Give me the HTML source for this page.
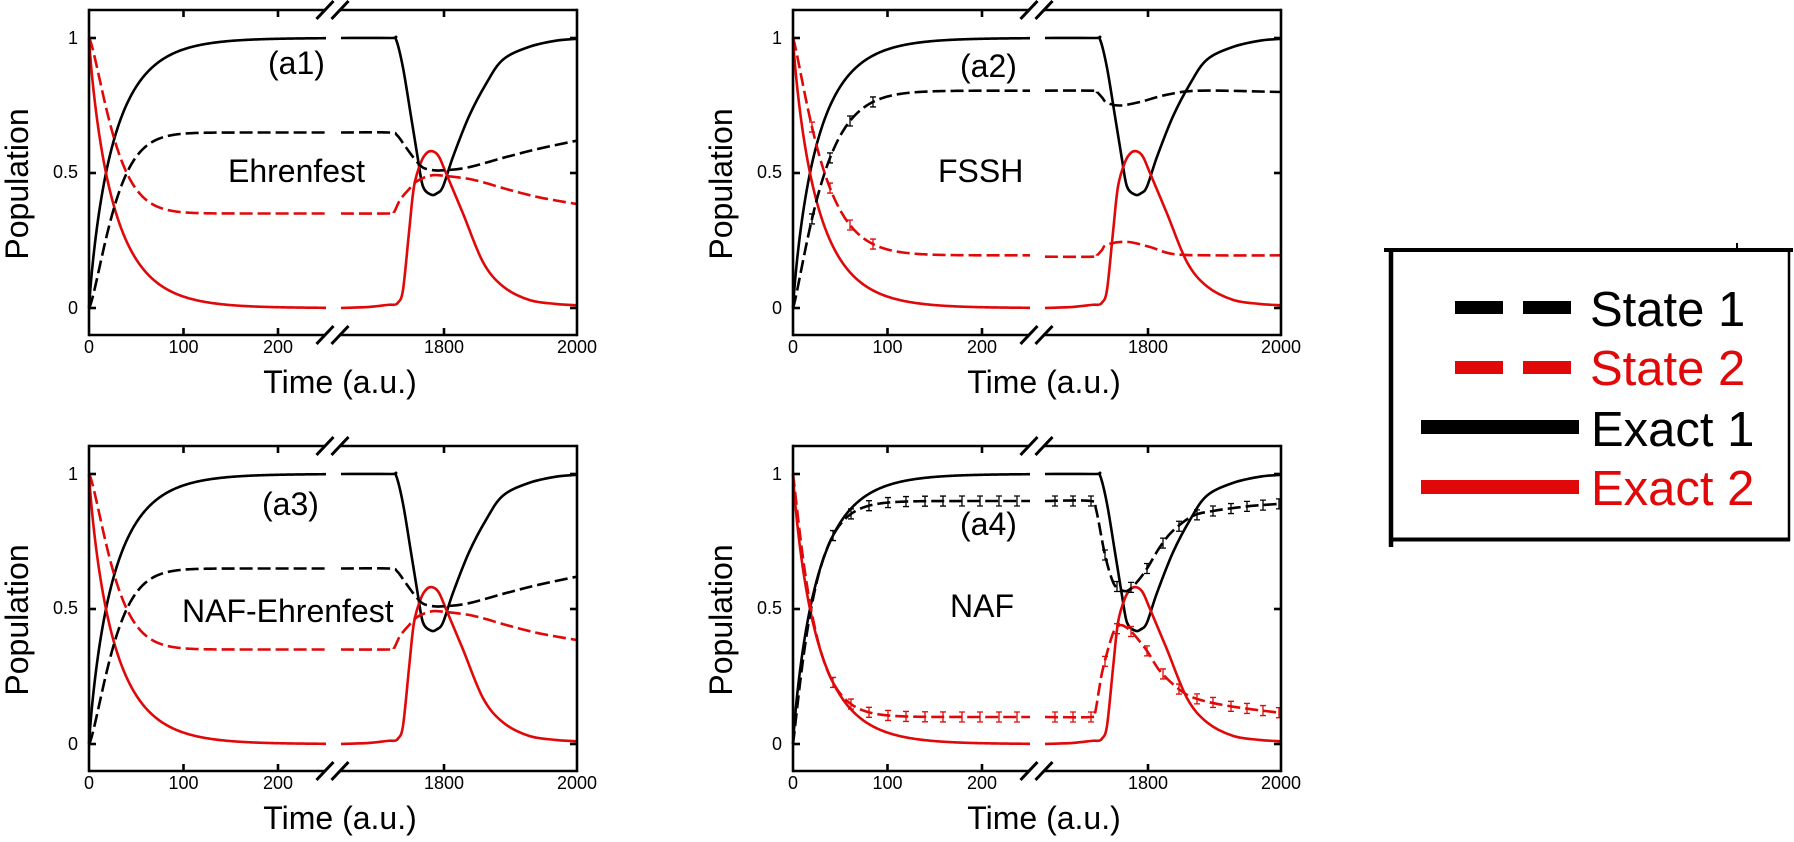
<!DOCTYPE html>
<html><head><meta charset="utf-8">
<style>
html,body{margin:0;padding:0;background:#fff;}
svg{display:block;}
text{font-family:"Liberation Sans",Arial,sans-serif;fill:#000;}
.tk{font-size:18px;}
.ax{font-size:32px;}
.an{font-size:32px;}
.lg{font-size:49px;}
</style></head><body>
<svg id="s" width="1794" height="842" viewBox="0 0 1794 842" xmlns="http://www.w3.org/2000/svg">
<defs>
<g id="frame" stroke="#000" stroke-width="2.6" fill="none" stroke-linecap="butt">
  <line x1="0" y1="-1.3" x2="0" y2="326.3"/>
  <line x1="488" y1="-1.3" x2="488" y2="326.3"/>
  <line x1="0" y1="0" x2="236" y2="0"/>
  <line x1="251" y1="0" x2="488" y2="0"/>
  <line x1="0" y1="325" x2="236" y2="325"/>
  <line x1="251" y1="325" x2="488" y2="325"/>
  <line x1="227.5" y1="9" x2="244.5" y2="-9" stroke-width="3"/>
  <line x1="242.5" y1="9" x2="259.5" y2="-9" stroke-width="3"/>
  <line x1="227.5" y1="334" x2="244.5" y2="316" stroke-width="3"/>
  <line x1="242.5" y1="334" x2="259.5" y2="316" stroke-width="3"/>
  <line x1="0" y1="28" x2="7" y2="28"/>
  <line x1="0" y1="163" x2="7" y2="163"/>
  <line x1="0" y1="298" x2="7" y2="298"/>
  <line x1="481" y1="28" x2="488" y2="28"/>
  <line x1="481" y1="163" x2="488" y2="163"/>
  <line x1="481" y1="298" x2="488" y2="298"/>
  <line x1="94.5" y1="325" x2="94.5" y2="318"/>
  <line x1="189" y1="325" x2="189" y2="318"/>
  <line x1="355" y1="325" x2="355" y2="318"/>
  <line x1="94.5" y1="0" x2="94.5" y2="7"/>
  <line x1="189" y1="0" x2="189" y2="7"/>
  <line x1="355" y1="0" x2="355" y2="7"/>
</g>
</defs>

<!-- Panel a1 -->
<g transform="translate(89,10)">
  <g id="c1"></g>
  <use href="#frame"/>
  <text class="tk" x="0" y="343" text-anchor="middle">0</text>
  <text class="tk" x="94.5" y="343" text-anchor="middle">100</text>
  <text class="tk" x="189" y="343" text-anchor="middle">200</text>
  <text class="tk" x="355" y="343" text-anchor="middle">1800</text>
  <text class="tk" x="488" y="343" text-anchor="middle">2000</text>
  <text class="tk" x="-11" y="34" text-anchor="end">1</text>
  <text class="tk" x="-11" y="168" text-anchor="end">0.5</text>
  <text class="tk" x="-11" y="304" text-anchor="end">0</text>
  <text class="ax" transform="translate(-61,174) rotate(-90)" text-anchor="middle">Population</text>
  <text class="ax" x="251" y="383" text-anchor="middle">Time (a.u.)</text>
  <text class="an" x="179" y="64">(a1)</text>
  <text class="an" x="139" y="172">Ehrenfest</text>
</g>

<!-- Panel a2 -->
<g transform="translate(793,10)">
  <g id="c2"></g>
  <use href="#frame"/>
  <text class="tk" x="0" y="343" text-anchor="middle">0</text>
  <text class="tk" x="94.5" y="343" text-anchor="middle">100</text>
  <text class="tk" x="189" y="343" text-anchor="middle">200</text>
  <text class="tk" x="355" y="343" text-anchor="middle">1800</text>
  <text class="tk" x="488" y="343" text-anchor="middle">2000</text>
  <text class="tk" x="-11" y="34" text-anchor="end">1</text>
  <text class="tk" x="-11" y="168" text-anchor="end">0.5</text>
  <text class="tk" x="-11" y="304" text-anchor="end">0</text>
  <text class="ax" transform="translate(-61,174) rotate(-90)" text-anchor="middle">Population</text>
  <text class="ax" x="251" y="383" text-anchor="middle">Time (a.u.)</text>
  <text class="an" x="167" y="67">(a2)</text>
  <text class="an" x="145" y="172">FSSH</text>
</g>

<!-- Panel a3 -->
<g transform="translate(89,446)">
  <g id="c3"></g>
  <use href="#frame"/>
  <text class="tk" x="0" y="343" text-anchor="middle">0</text>
  <text class="tk" x="94.5" y="343" text-anchor="middle">100</text>
  <text class="tk" x="189" y="343" text-anchor="middle">200</text>
  <text class="tk" x="355" y="343" text-anchor="middle">1800</text>
  <text class="tk" x="488" y="343" text-anchor="middle">2000</text>
  <text class="tk" x="-11" y="34" text-anchor="end">1</text>
  <text class="tk" x="-11" y="168" text-anchor="end">0.5</text>
  <text class="tk" x="-11" y="304" text-anchor="end">0</text>
  <text class="ax" transform="translate(-61,174) rotate(-90)" text-anchor="middle">Population</text>
  <text class="ax" x="251" y="383" text-anchor="middle">Time (a.u.)</text>
  <text class="an" x="173" y="69">(a3)</text>
  <text class="an" x="93" y="176">NAF-Ehrenfest</text>
</g>

<!-- Panel a4 -->
<g transform="translate(793,446)">
  <g id="c4"></g>
  <use href="#frame"/>
  <text class="tk" x="0" y="343" text-anchor="middle">0</text>
  <text class="tk" x="94.5" y="343" text-anchor="middle">100</text>
  <text class="tk" x="189" y="343" text-anchor="middle">200</text>
  <text class="tk" x="355" y="343" text-anchor="middle">1800</text>
  <text class="tk" x="488" y="343" text-anchor="middle">2000</text>
  <text class="tk" x="-11" y="34" text-anchor="end">1</text>
  <text class="tk" x="-11" y="168" text-anchor="end">0.5</text>
  <text class="tk" x="-11" y="304" text-anchor="end">0</text>
  <text class="ax" transform="translate(-61,174) rotate(-90)" text-anchor="middle">Population</text>
  <text class="ax" x="251" y="383" text-anchor="middle">Time (a.u.)</text>
  <text class="an" x="167" y="89">(a4)</text>
  <text class="an" x="157" y="171">NAF</text>
</g>

<!-- Legend -->
<g>
  <line x1="1384" y1="250" x2="1793" y2="250" stroke="#000" stroke-width="4"/>
  <line x1="1391" y1="248" x2="1391" y2="547" stroke="#000" stroke-width="4.5"/>
  <line x1="1789" y1="250" x2="1789" y2="541" stroke="#000" stroke-width="2.5"/>
  <line x1="1389" y1="539.5" x2="1790" y2="539.5" stroke="#000" stroke-width="4"/>
  <line x1="1737" y1="243" x2="1737" y2="250" stroke="#000" stroke-width="2"/>
  <rect x="1455" y="301" width="48" height="13" fill="#000"/>
  <rect x="1523" y="301" width="48" height="13" fill="#000"/>
  <rect x="1455" y="361" width="48" height="13" fill="#e00808"/>
  <rect x="1523" y="361" width="48" height="13" fill="#e00808"/>
  <rect x="1421" y="420" width="158" height="14" fill="#000"/>
  <rect x="1421" y="480" width="158" height="14" fill="#e00808"/>
  <text class="lg" x="1590" y="326">State 1</text>
  <text class="lg" x="1590" y="385" style="fill:#e00808">State 2</text>
  <text class="lg" x="1591" y="446">Exact 1</text>
  <text class="lg" x="1591" y="505" style="fill:#e00808">Exact 2</text>
</g>
</svg>
<script>
(function(){
var NS='http://www.w3.org/2000/svg';
var RED='#e00808';
function Y(p){return 298-270*p;}
function poly(f,u0,u1){var d='';for(var u=u0;u<=u1;u+=1){d+=(u===u0?'M':'L')+u+','+Y(f(u)).toFixed(2)+' ';}return d;}
function cr(pts){
  var P=pts.map(function(q){return [q[0],Y(q[1])];});
  var d='M'+P[0][0]+','+P[0][1].toFixed(2);
  for(var i=0;i<P.length-1;i++){
    var p0=P[Math.max(i-1,0)],p1=P[i],p2=P[i+1],p3=P[Math.min(i+2,P.length-1)];
    var c1x=p1[0]+(p2[0]-p0[0])/6,c1y=p1[1]+(p2[1]-p0[1])/6;
    var c2x=p2[0]-(p3[0]-p1[0])/6,c2y=p2[1]-(p3[1]-p1[1])/6;
    d+=' C'+c1x.toFixed(2)+','+c1y.toFixed(2)+' '+c2x.toFixed(2)+','+c2y.toFixed(2)+' '+p2[0]+','+p2[1].toFixed(2);
  }
  return d;
}
function interp(pts,u){
  for(var i=0;i<pts.length-1;i++){if(u>=pts[i][0]&&u<=pts[i+1][0]){var t=(u-pts[i][0])/(pts[i+1][0]-pts[i][0]);return pts[i][1]+t*(pts[i+1][1]-pts[i][1]);}}
  return pts[pts.length-1][1];
}
function add(g,d,col,dash,w){
  var p=document.createElementNS(NS,'path');
  p.setAttribute('d',d);p.setAttribute('fill','none');p.setAttribute('stroke',col);
  p.setAttribute('stroke-width',w||'2.6');p.setAttribute('stroke-linejoin','round');
  if(dash)p.setAttribute('stroke-dasharray','13 5');
  g.appendChild(p);
}
function eb(u){return 1-Math.exp(-Math.pow(u/25.7,0.885));}
var EB=[[252,1.0],[302,1.0],[307,0.995],[314,0.89],[322,0.71],[329,0.55],[334,0.45],[342,0.42],[348,0.425],[354,0.45],[364,0.56],[380,0.71],[397,0.83],[414,0.92],[440,0.967],[467,0.99],[488,0.997]];
var ER=[[252,0.0],[280,0.004],[300,0.012],[305,0.012],[309,0.02],[314,0.067],[320,0.28],[325,0.45],[332,0.54],[338,0.575],[344,0.58],[350,0.56],[357,0.5],[374,0.35],[394,0.17],[414,0.08],[440,0.03],[467,0.015],[488,0.01]];
var ehr={A:0.65,tau:28.4,k:1.34,
  br:[[252,0.65],[300,0.65],[308,0.64],[316,0.6],[326,0.55],[334,0.52],[345,0.51],[354,0.51],[378,0.52],[418,0.56],[450,0.59],[488,0.62]],
  rr:[[252,0.35],[300,0.35],[305,0.355],[311,0.4],[320,0.44],[328,0.47],[341,0.49],[354,0.49],[384,0.475],[418,0.44],[450,0.41],[488,0.385]]};
var fssh={A:0.805,tau:32.4,k:1.2,
  br:[[252,0.805],[300,0.805],[304,0.8],[309,0.78],[314,0.76],[327,0.75],[347,0.763],[374,0.79],[407,0.805],[488,0.80]],
  rr:[[252,0.19],[300,0.19],[304,0.195],[309,0.215],[314,0.235],[334,0.245],[357,0.226],[380,0.2],[420,0.195],[488,0.195]],
  bars:[19,37,57,80]};
var naf={A:0.9,tau:21.8,k:1.1,
  br:[[252,0.9],[298,0.9],[303,0.87],[312,0.70],[320,0.6],[326,0.575],[334,0.567],[344,0.6],[354,0.65],[367,0.73],[380,0.79],[400,0.845],[420,0.863],[454,0.88],[488,0.89]],
  rr:[[252,0.1],[298,0.1],[302,0.115],[306,0.2],[310,0.28],[320,0.41],[327,0.44],[334,0.43],[340,0.41],[354,0.345],[367,0.27],[387,0.2],[404,0.167],[437,0.14],[488,0.115]],
  bars:[40,58,76,95,113,132,150,169,187,206,224,262,280,298,312,324,338,354,370,386,404,420,438,454,470,486]};
function draw(id,m){
  var g=document.getElementById(id);
  add(g,poly(eb,0,237),'#000');
  add(g,poly(function(u){return 1-eb(u);},0,237),RED);
  add(g,cr(EB),'#000');
  add(g,cr(ER),RED);
  var fb=function(u){return m.A*(1-Math.exp(-Math.pow(u/m.tau,m.k)));};
  add(g,poly(fb,0,237),'#000',true);
  add(g,poly(function(u){return 1-fb(u);},0,237),RED,true);
  add(g,cr(m.br),'#000',true);
  add(g,cr(m.rr),RED,true);
  if(m.bars){
    var db='',dr='';
    m.bars.forEach(function(u){
      var pb,pr;
      if(u<=237){pb=fb(u);pr=1-pb;}else{pb=interp(m.br,u);pr=interp(m.rr,u);}
      var yb=Y(pb),yr=Y(pr);
      db+='M'+u+','+(yb-5)+'V'+(yb+5)+'M'+(u-3)+','+(yb-5)+'h6M'+(u-3)+','+(yb+5)+'h6';
      dr+='M'+u+','+(yr-5)+'V'+(yr+5)+'M'+(u-3)+','+(yr-5)+'h6M'+(u-3)+','+(yr+5)+'h6';
    });
    add(g,db,'#000',false,'1.3');
    add(g,dr,RED,false,'1.3');
  }
}
draw('c1',ehr);
draw('c2',fssh);
draw('c3',ehr);
draw('c4',naf);
})();
</script>
</body></html>
